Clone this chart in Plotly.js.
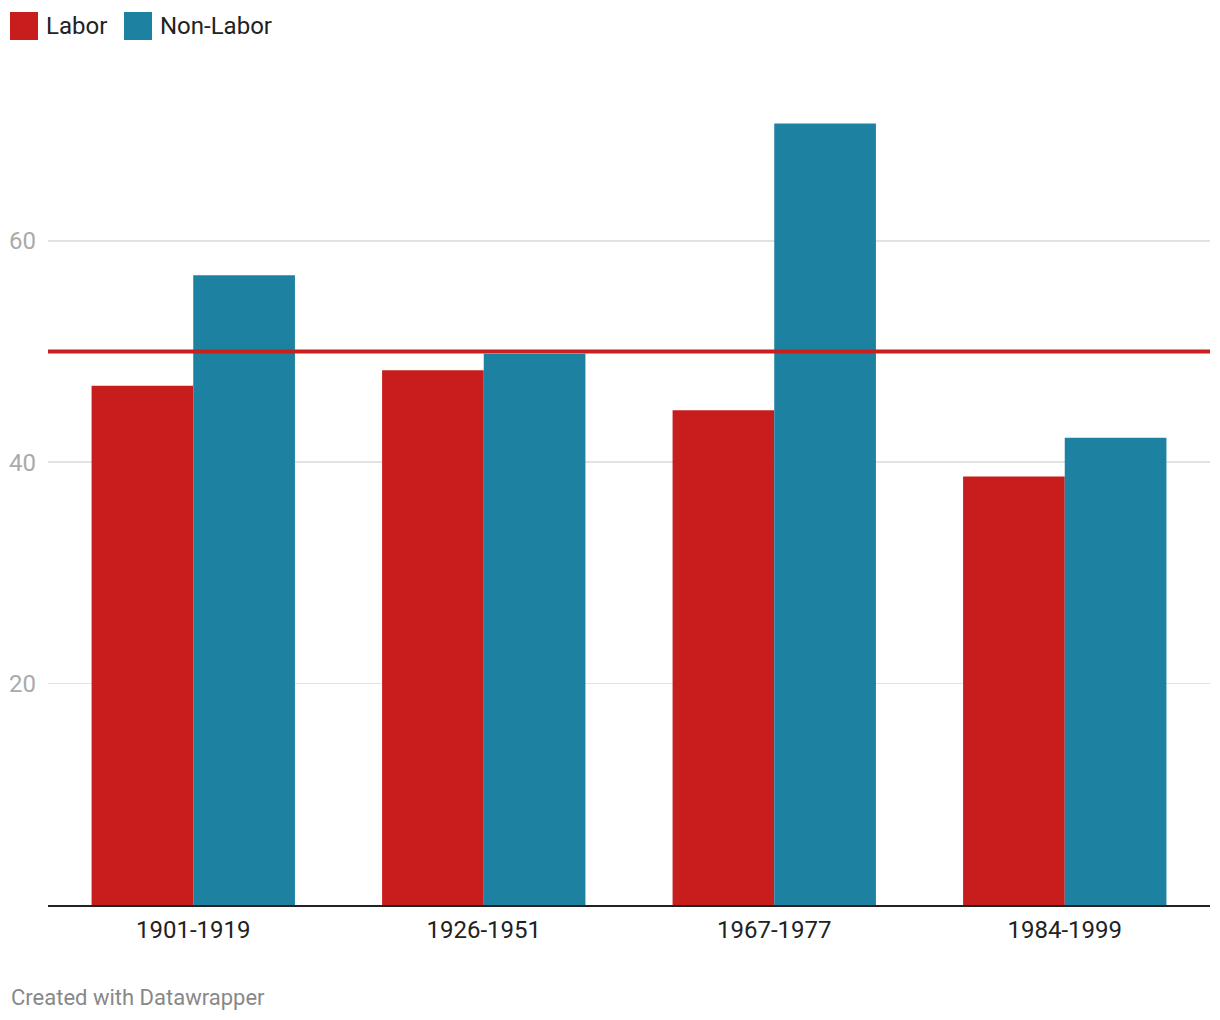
<!DOCTYPE html>
<html>
<head>
<meta charset="utf-8">
<script src="https://cdn.plot.ly/plotly-3.0.1.min.js"></script>
<style>html,body{margin:0;padding:0;background:#fff;}#chart{width:1220px;height:1020px;}</style>
</head>
<body>
<div id="chart"></div>
<script>
const categories = ["1901-1919", "1926-1951", "1967-1977", "1984-1999"];
const seriesNames = ["Labor", "Non-Labor"];
const laborValues = [46.9, 48.3, 44.7, 38.7];
const nonLaborValues = [56.9, 49.8, 70.6, 42.2];
const referenceValue = 50;
const yTicks = [20, 40, 60];
const colors = ["#c71e1d", "#1d81a2"];
const credit = "Created with Datawrapper";

const W = 1220, H = 1020;
const mL = 48, mR = 10, mT = 108, mB = 115;
const pw = W - mL - mR, ph = H - mT - mB;
const px = x => (x - mL) / pw;
const py = y => (H - mB - y) / ph;

const traces = [laborValues, nonLaborValues].map((vals, i) => ({
  type: "bar", name: seriesNames[i], x: categories, y: vals,
  marker: {color: colors[i], line: {width: 0}}, hoverinfo: "x+y+name", showlegend: false
}));

const shapes = [
  {type: "line", xref: "paper", x0: 0, x1: 1, yref: "y", y0: referenceValue, y1: referenceValue,
   line: {color: "#c91f1f", width: 4}, layer: "above"}
];
const annotations = [];
const legendX = [10, 124];
seriesNames.forEach((n, i) => {
  shapes.push({type: "rect", xref: "paper", yref: "paper",
    x0: px(legendX[i]), x1: px(legendX[i] + 28), y0: py(40), y1: py(12),
    fillcolor: colors[i], line: {width: 0}});
  annotations.push({xref: "paper", yref: "paper", x: px(legendX[i] + 34), y: py(26),
    xanchor: "left", yanchor: "middle", text: n, showarrow: false,
    font: {family: "Roboto", size: 24, color: "#222"}});
});
annotations.push({xref: "paper", yref: "paper", x: px(9), y: py(997),
  xanchor: "left", yanchor: "middle", text: credit, showarrow: false,
  font: {family: "Roboto", size: 22, color: "#888"}});

const layout = {
  width: W, height: H,
  margin: {l: mL, r: mR, t: mT, b: mB, pad: 0},
  paper_bgcolor: "#fff", plot_bgcolor: "#fff",
  font: {family: "Roboto", color: "#222"},
  barmode: "group", bargap: 0.3, bargroupgap: 0,
  xaxis: {type: "category", showgrid: false, ticks: "", showline: true, linecolor: "#222", linewidth: 2,
    tickfont: {family: "Roboto", size: 24, color: "#222"}, ticklabelstandoff: 2, zeroline: false},
  yaxis: {range: [0, 72], tickvals: yTicks, ticktext: yTicks.map(String), showgrid: true,
    gridcolor: "#e2e2e2", gridwidth: 1.5, zeroline: false, showline: false, ticks: "",
    tickfont: {family: "Roboto", size: 24, color: "#aaa"}, ticklabelstandoff: 11},
  shapes: shapes, annotations: annotations, showlegend: false
};

Plotly.newPlot("chart", traces, layout, {displayModeBar: false, staticPlot: true});
</script>
</body>
</html>
